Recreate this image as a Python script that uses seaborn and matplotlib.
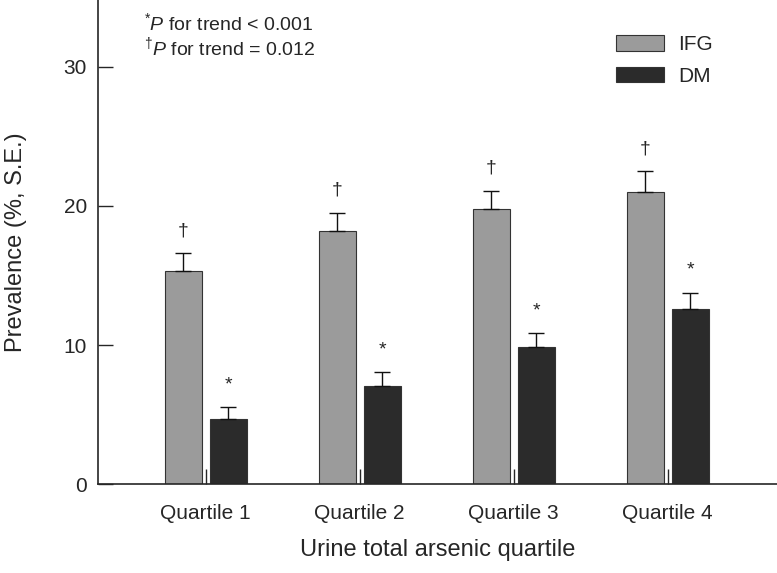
import matplotlib
matplotlib.use("Agg")
import matplotlib.pyplot as plt
import pandas as pd
import seaborn as sns

# values
quartiles = ["Quartile 1", "Quartile 2", "Quartile 3", "Quartile 4"]
ifg = [15.3, 18.2, 19.8, 21.0]
ifg_se = [1.3, 1.3, 1.3, 1.5]
dm = [4.7, 7.05, 9.85, 12.6]
dm_se = [0.85, 1.0, 1.0, 1.15]

df = pd.DataFrame({
    "quartile": quartiles * 2,
    "group": ["IFG"] * 4 + ["DM"] * 4,
    "prev": ifg + dm,
    "se": ifg_se + dm_se,
})

sns.set_style("ticks")
plt.rcParams["font.family"] = ["Liberation Sans", "DejaVu Sans"]
plt.rcParams["mathtext.fontset"] = "custom"
plt.rcParams["mathtext.rm"] = "Liberation Sans"
plt.rcParams["mathtext.it"] = "Liberation Sans:italic"

fig = plt.figure(figsize=(7.77, 5.73), dpi=100)
ax = fig.add_axes([0.126, 0.155, 0.874, 0.845])

sns.barplot(data=df, x="quartile", y="prev", hue="group",
            palette=["#9b9b9b", "#2b2b2b"], width=0.584, gap=0.18,
            edgecolor="#333333", linewidth=0.8, ax=ax)

# error bars (upper only) and significance marks
marks = {"IFG": "\u2020", "DM": "*"}
for cont, (g, sub) in zip(ax.containers, df.groupby("group", sort=False)):
    for bar, v, s in zip(cont, sub["prev"], sub["se"]):
        xc = bar.get_x() + bar.get_width() / 2
        ax.errorbar(xc, v, yerr=[[0], [s]], color="#111111", capsize=5.5,
                    elinewidth=1.0, capthick=1.0)
        ax.text(xc, v + s + 1.0, marks[g], ha="center", va="bottom", fontsize=14)

ax.set_xlim(-0.70, 3.71)
ax.set_ylim(0, 34.8)
ax.set_yticks([0, 10, 20, 30])
ax.tick_params(direction="in", length=11, width=1, labelsize=15)
ax.tick_params(axis="x", pad=14)
ax.tick_params(axis="y", pad=8)
sns.despine(ax=ax)
ax.spines["left"].set_linewidth(1.2)
ax.spines["bottom"].set_linewidth(1.2)

ax.set_xlabel("Urine total arsenic quartile", fontsize=17, labelpad=12)
ax.set_ylabel("Prevalence (%, S.E.)", fontsize=17, labelpad=26)

ax.legend(loc="upper left", bbox_to_anchor=(0.735, 0.966), frameon=False,
          fontsize=15, handlelength=2.3, handleheight=0.77, handletextpad=0.7,
          labelspacing=0.6)

ax.text(0.068, 0.975, r"$^{*}\mathit{P}$ for trend < 0.001", transform=ax.transAxes,
        fontsize=14, va="top", ha="left")
ax.text(0.068, 0.928, r"$^{\dagger}\mathit{P}$ for trend = 0.012", transform=ax.transAxes,
        fontsize=14, va="top", ha="left")

fig.savefig("out.png", dpi=100)
